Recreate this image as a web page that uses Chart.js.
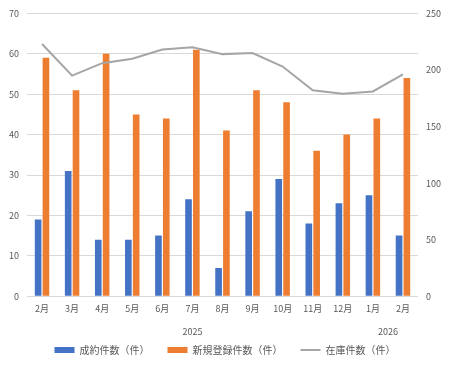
<html lang="ja">
<head>
<meta charset="UTF-8">
<script src="https://cdn.jsdelivr.net/npm/chart.js"></script>
<style>
  body { margin: 0; background: #fff; }
  #wrap { width: 455px; height: 365px; }
</style>
</head>
<body>
<div id="wrap"><canvas id="myChart"></canvas></div>
<script>
    var months = ['2月', '3月', '4月', '5月', '6月', '7月', '8月', '9月', '10月', '11月', '12月', '1月', '2月'];
    var years = ['2025', '2026'];
    var yearStart = [0, 11];
    var yearEnd = [10, 12];
    var contracts = [19, 31, 14, 14, 15, 24, 7, 21, 29, 18, 23, 25, 15];
    var newListings = [59, 51, 60, 45, 44, 61, 41, 51, 48, 36, 40, 44, 54];
    var stock = [223, 195, 206, 210, 218, 220, 214, 215, 203, 182, 179, 181, 196];

    var txt = '#595959';
    var fam = '"Noto Sans CJK JP", "Noto Sans", sans-serif';

    // year row under the month labels
    var yearRow = {
        id: 'yearRow',
        afterDraw: function (chart) {
            var x = chart.scales.x;
            var ctx = chart.ctx;
            ctx.save();
            ctx.fillStyle = txt;
            ctx.font = '9px ' + fam;
            ctx.textAlign = 'center';
            ctx.textBaseline = 'middle';
            for (var i = 0; i < years.length; i++) {
                var cx = (x.getPixelForValue(yearStart[i]) + x.getPixelForValue(yearEnd[i])) / 2;
                ctx.fillText(years[i], cx, x.top + 35);
            }
            ctx.restore();
        }
    };

    const ctx = document.getElementById('myChart').getContext('2d');
    new Chart(ctx, {
        data: {
            labels: months,
            datasets: [{
                type: 'bar',
                label: '成約件数（件）',
                data: contracts,
                backgroundColor: '#4472c4',
                yAxisID: 'y',
                pointStyle: 'rect',
                categoryPercentage: 0.52,
                barPercentage: 0.85,
                order: 2
            }, {
                type: 'bar',
                label: '新規登録件数（件）',
                data: newListings,
                backgroundColor: '#ed7d31',
                yAxisID: 'y',
                pointStyle: 'rect',
                categoryPercentage: 0.52,
                barPercentage: 0.85,
                order: 2
            }, {
                type: 'line',
                label: '在庫件数（件）',
                data: stock,
                borderColor: '#a5a5a5',
                backgroundColor: '#a5a5a5',
                borderWidth: 2,
                pointRadius: 0,
                pointStyle: 'line',
                tension: 0,
                yAxisID: 'y1',
                order: 1
            }]
        },
        options: {
            responsive: true,
            maintainAspectRatio: false,
            animation: false,
            layout: { padding: { left: 1, right: 6, top: 1, bottom: 0 } },
            plugins: {
                tooltip: { enabled: false },
                legend: {
                    position: 'bottom',
                    labels: {
                        usePointStyle: true,
                        pointStyleWidth: 20,
                        boxHeight: 6,
                        color: txt,
                        padding: 18,
                        font: { family: fam, size: 10 },
                        sort: function (a, b) { return a.datasetIndex - b.datasetIndex; }
                    }
                }
            },
            scales: {
                x: {
                    grid: { display: false, drawTicks: false },
                    border: { display: false },
                    ticks: { color: txt, font: { family: fam, size: 9 }, maxRotation: 0, autoSkip: false, padding: 7 },
                    afterFit: function (scale) { scale.height += 6; }
                },
                y: {
                    position: 'left',
                    min: 0, max: 70,
                    ticks: { stepSize: 10, color: txt, font: { family: fam, size: 9 }, padding: 8 },
                    grid: { color: '#d9d9d9', drawTicks: false },
                    border: { display: false }
                },
                y1: {
                    position: 'right',
                    min: 0, max: 250,
                    ticks: { stepSize: 50, color: txt, font: { family: fam, size: 9 }, padding: 8 },
                    grid: { display: false, drawTicks: false },
                    border: { display: false }
                }
            }
        },
        plugins: [yearRow]
    });
</script>
</body>
</html>
